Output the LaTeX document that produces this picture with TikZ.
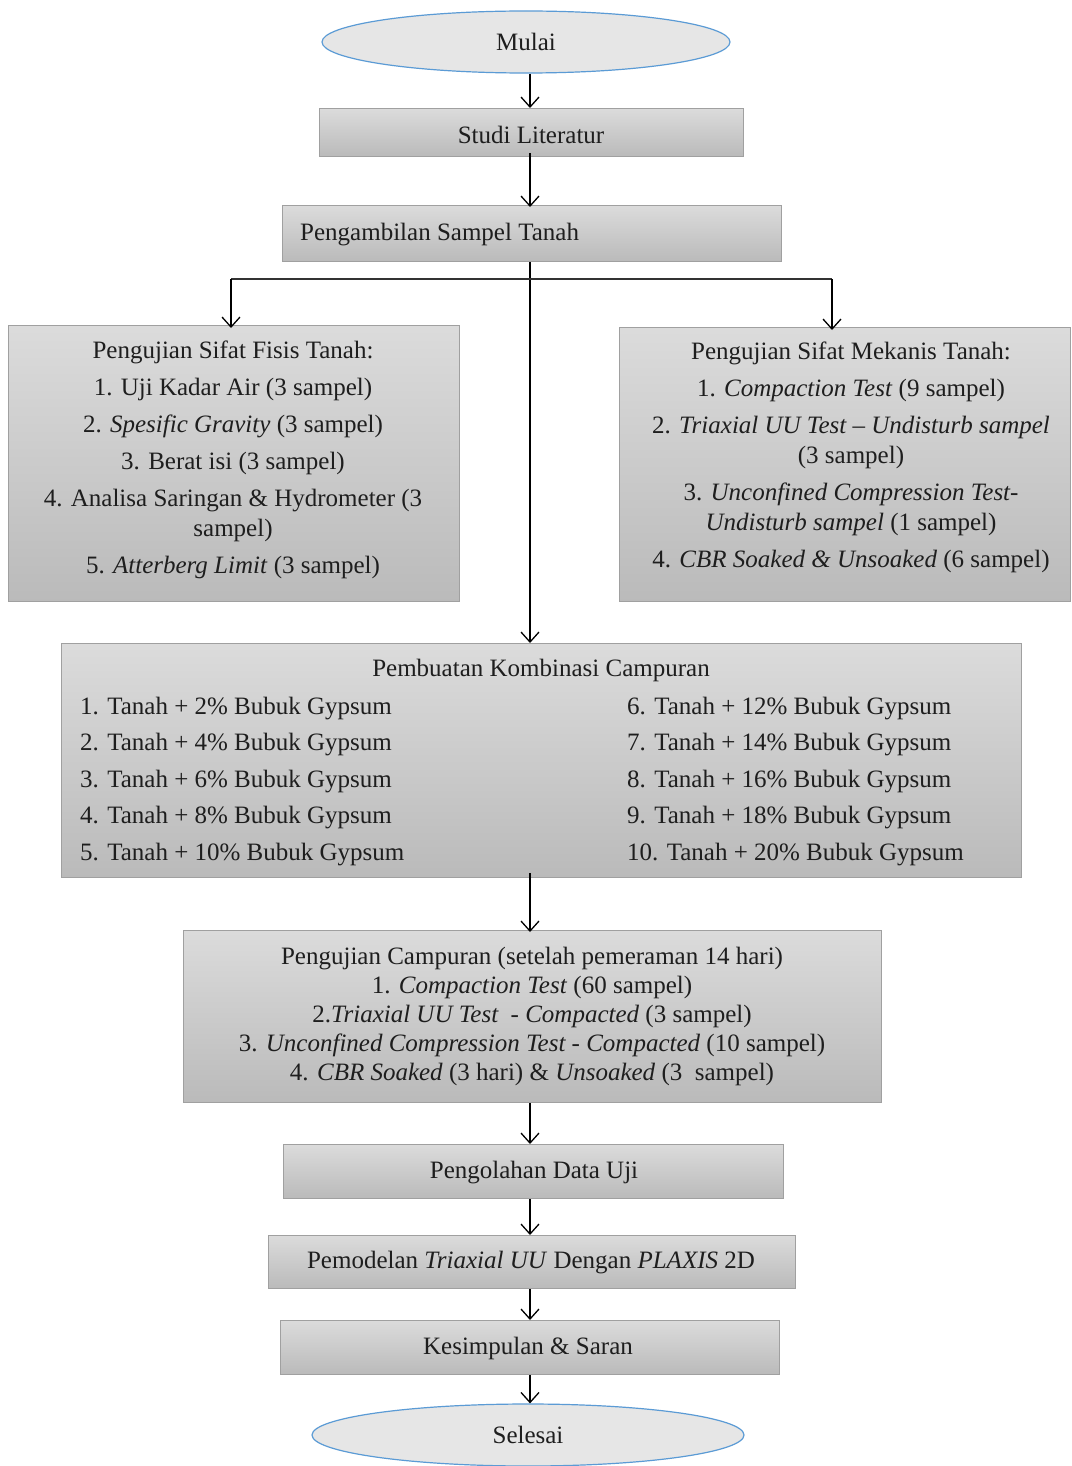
\documentclass[tikz,border=0pt]{standalone}
\usepackage{fontspec}
\setmainfont{Liberation Serif}
\usetikzlibrary{shapes.geometric,arrows.meta}
\definecolor{ellfill}{HTML}{E6E6E6}
\definecolor{ellline}{HTML}{5B9BD5}
\definecolor{boxline}{HTML}{A0A0A0}
\definecolor{txtcol}{HTML}{1E1E1E}
\begin{document}
\begin{tikzpicture}[x=1pt,y=-1pt,
  every node/.style={font=\fontsize{25}{30}\selectfont, text=txtcol},
  boxnode/.style={rectangle, draw=boxline, line width=0.8pt, top color=black!14, bottom color=black!27, inner sep=0pt, anchor=north west},
  ovalnode/.style={ellipse, draw=ellline, line width=1.2pt, fill=ellfill, inner sep=0pt},
  txtnode/.style={align=center, inner sep=0pt, yshift=-2.5pt},
  arr/.style={draw=black, line width=1.3pt, -{Straight Barb[length=10pt,width=18pt,line width=1.3pt]}},
  plain/.style={draw=black!80, line width=1.3pt}
]
\useasboundingbox (0,0) rectangle (1071,1466);
\fill[white] (0,0) rectangle (1071,1466);

% start / end
\node[ovalnode, minimum width=408pt, minimum height=62pt] (mulai) at (526,42) {Mulai};
\node[ovalnode, minimum width=432pt, minimum height=62pt] (selesai) at (528,1435) {Selesai};

% single line boxes
\node[boxnode, minimum width=424pt, minimum height=48pt] (studi) at (319,108) {};
\node[txtnode] (studit) at (531,132) {Studi Literatur};

\node[boxnode, minimum width=499pt, minimum height=56pt] (ambil) at (282,205) {};
\node[txtnode, anchor=west] (ambilt) at (300,232) {Pengambilan Sampel Tanah};

% fisis
\node[boxnode, minimum width=451pt, minimum height=276pt] (fisis) at (8,325) {};
\node[txtnode] (fisist) at (233,457) {Pengujian Sifat Fisis Tanah:\\[7pt]
1. Uji Kadar Air (3 sampel)\\[7pt]
2. \textit{Spesific Gravity} (3 sampel)\\[7pt]
3. Berat isi (3 sampel)\\[7pt]
4. Analisa Saringan \& Hydrometer (3\\
sampel)\\[7pt]
5. \textit{Atterberg Limit} (3 sampel)};

% mekanis
\node[boxnode, minimum width=451pt, minimum height=274pt] (mekanis) at (619,327) {};
\node[txtnode] (mekanist) at (851,455) {Pengujian Sifat Mekanis Tanah:\\[7pt]
1. \textit{Compaction Test} (9 sampel)\\[7pt]
2. \textit{Triaxial UU Test -- Undisturb sampel}\\
(3 sampel)\\[7pt]
3. \textit{Unconfined Compression Test-}\\
\textit{Undisturb sampel} (1 sampel)\\[7pt]
4. \textit{CBR Soaked \& Unsoaked} (6 sampel)};

% pembuatan
\node[boxnode, minimum width=960pt, minimum height=234pt] (buat) at (61,643) {};
\node[txtnode] (buatt) at (541,668) {Pembuatan Kombinasi Campuran};
\node[txtnode, anchor=west, align=left, font=\fontsize{25}{36.5}\selectfont] (buatl) at (80,779) {1. Tanah + 2\% Bubuk Gypsum\\
2. Tanah + 4\% Bubuk Gypsum\\
3. Tanah + 6\% Bubuk Gypsum\\
4. Tanah + 8\% Bubuk Gypsum\\
5. Tanah + 10\% Bubuk Gypsum};
\node[txtnode, anchor=west, align=left, font=\fontsize{25}{36.5}\selectfont] (buatr) at (627,779) {6. Tanah + 12\% Bubuk Gypsum\\
7. Tanah + 14\% Bubuk Gypsum\\
8. Tanah + 16\% Bubuk Gypsum\\
9. Tanah + 18\% Bubuk Gypsum\\
10. Tanah + 20\% Bubuk Gypsum};

% campuran
\node[boxnode, minimum width=698pt, minimum height=172pt] (camp) at (183,930) {};
\node[txtnode, font=\fontsize{25}{29}\selectfont] (campt) at (532,1014) {Pengujian Campuran (setelah pemeraman 14 hari)\\
1. \textit{Compaction Test} (60 sampel)\\
2.\textit{Triaxial UU Test \ - Compacted} (3 sampel)\\
3. \textit{Unconfined Compression Test - Compacted} (10 sampel)\\
4. \textit{CBR Soaked} (3 hari) \& \textit{Unsoaked} (3 \ sampel)};

% lower boxes
\node[boxnode, minimum width=500pt, minimum height=54pt] (olah) at (283,1144) {};
\node[txtnode] (olaht) at (534,1170) {Pengolahan Data Uji};

\node[boxnode, minimum width=527pt, minimum height=53pt] (model) at (268,1235) {};
\node[txtnode] (modelt) at (531,1260) {Pemodelan \textit{Triaxial UU} Dengan \textit{PLAXIS} 2D};

\node[boxnode, minimum width=499pt, minimum height=54pt] (simp) at (280,1320) {};
\node[txtnode] (simpt) at (528,1346) {Kesimpulan \& Saran};

% axis coordinates
\coordinate (ax) at (530,0);
\coordinate (sp) at (530,279);
\coordinate (spl) at (231,279);
\coordinate (spr) at (832,279);

% connectors
\draw[arr] (mulai.south -| ax) -- (studi.north -| ax);
\draw[arr] ([yshift=4pt]studi.south -| ax) -- ([yshift=-2pt]ambil.north -| ax);
\draw[arr] (ambil.south -| ax) -- (buat.north -| ax);
\draw[plain] (spl) -- (spr);
\draw[arr] (spl) -- ([yshift=-3pt]spl |- fisis.north);
\draw[arr] (spr) -- ([yshift=-3pt]spr |- mekanis.north);
\draw[arr] ([yshift=5pt]buat.south -| ax) -- ([yshift=-2pt]camp.north -| ax);
\draw[arr] (camp.south -| ax) -- (olah.north -| ax);
\draw[arr] (olah.south -| ax) -- (model.north -| ax);
\draw[arr] (model.south -| ax) -- (simp.north -| ax);
\draw[arr] (simp.south -| ax) -- (selesai.north -| ax);
\end{tikzpicture}
\end{document}
